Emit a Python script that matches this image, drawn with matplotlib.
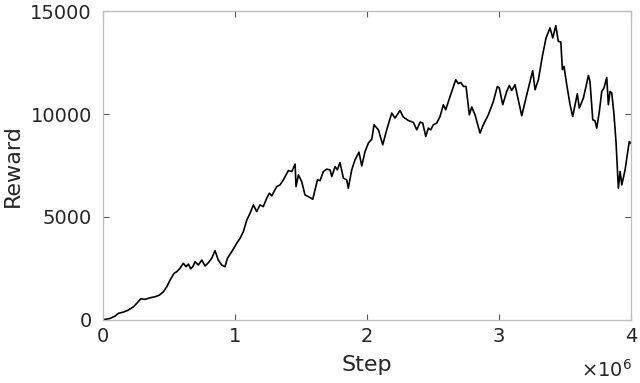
import matplotlib
matplotlib.use("Agg")
import matplotlib.pyplot as plt
from matplotlib.ticker import FixedLocator, FuncFormatter

# Training steps (in thousands) and reward
step_k = [0, 53, 91, 116, 154, 192, 230, 255, 286, 318, 356, 394, 427, 457, 483,
          508, 538, 558, 583, 608, 629, 646, 664, 680, 697, 722, 748, 773, 798, 823,
          848, 873, 899, 924, 942, 975, 1013, 1038, 1063, 1089, 1114, 1139, 1164,
          1189, 1214, 1240, 1260, 1278, 1295, 1316, 1341, 1366, 1404, 1430, 1455,
          1462, 1480, 1505, 1530, 1555, 1589, 1606, 1624, 1644, 1669, 1695, 1720,
          1733, 1758, 1775, 1795, 1821, 1846, 1858, 1884, 1909, 1939, 1960, 1985,
          2010, 2036, 2053, 2086, 2119, 2149, 2187, 2212, 2250, 2275, 2313, 2351,
          2377, 2402, 2422, 2445, 2464, 2483, 2502, 2528, 2553, 2578, 2596, 2629,
          2672, 2692, 2710, 2730, 2750, 2775, 2793, 2818, 2856, 2881, 2919, 2957,
          2987, 3002, 3028, 3058, 3078, 3096, 3121, 3146, 3172, 3210, 3255, 3273,
          3298, 3328, 3356, 3386, 3407, 3430, 3449, 3468, 3480, 3492, 3513, 3538,
          3558, 3576, 3593, 3608, 3639, 3659, 3677, 3689, 3710, 3727, 3740, 3760,
          3778, 3795, 3816, 3828, 3841, 3854, 3871, 3886, 3904, 3917, 3930, 3955,
          3975, 3987, 3998]
reward = [0, 68, 180, 312, 375, 472, 633, 799, 1023, 993, 1071, 1120, 1203, 1364,
          1607, 1933, 2260, 2338, 2503, 2747, 2581, 2713, 2480, 2581, 2825, 2664,
          2907, 2615, 2776, 2990, 3360, 2907, 2664, 2581, 2990, 3312, 3721, 3964,
          4286, 4855, 5182, 5586, 5260, 5586, 5503, 5912, 6156, 6024, 6234, 6477,
          6560, 6803, 7256, 7208, 7568, 6477, 7047, 6721, 6073, 5990, 5863, 6316,
          6803, 6769, 7208, 7325, 7290, 6964, 7451, 7290, 7646, 6886, 6803, 6399,
          7290, 7778, 8152, 7485, 8182, 8591, 8785, 9482, 9238, 8508, 9238, 10052,
          9808, 10178, 9857, 9691, 9594, 9238, 9613, 9565, 8912, 9321, 9238, 9482,
          9565, 9886, 10456, 10213, 10860, 11673, 11479, 11542, 11347, 11347, 9969,
          10344, 9969, 9078, 9482, 9969, 10617, 11347, 11269, 10456, 11104, 11396,
          11152, 11430, 10700, 9920, 10943, 12112, 11186, 11673, 12808, 13704,
          14191, 13704, 14303, 13539, 13509, 12160, 12321, 11430, 10456, 9886,
          10456, 10992, 10295, 10782, 11347, 11883, 11591, 9725, 9677, 9321, 10130,
          11104, 11269, 11785, 10456, 11104, 11026, 9969, 8669, 6399, 7208, 6560,
          7290, 8182, 8669, 8591]

x_ticks = [0, 1e6, 2e6, 3e6, 4e6]
y_ticks = [0, 5000, 10000, 15000]

steps = [s * 1000 for s in step_k]

fig = plt.figure(figsize=(6.4, 3.83), dpi=100)
ax = fig.add_axes([0.161, 0.165, 0.825, 0.8055])
ax.plot(steps, reward, color="black", linewidth=1.2)

ax.set_xlim(0, 4e6)
ax.set_ylim(0, 15000)
ax.xaxis.set_major_locator(FixedLocator(x_ticks))
ax.yaxis.set_major_locator(FixedLocator(y_ticks))
ax.xaxis.set_major_formatter(FuncFormatter(lambda v, p: f"{v/1e6:g}"))
ax.yaxis.set_major_formatter(FuncFormatter(lambda v, p: f"{int(v)}"))

spine_col = "#bdbdbd"
txt_col = "#262626"
for s in ax.spines.values():
    s.set_color(spine_col)
    s.set_linewidth(0.9)
ax.tick_params(direction="in", length=4, width=0.8, color="#555555",
               labelsize=14, labelcolor=txt_col, top=True, right=True)
ax.tick_params(axis="x", pad=5)
ax.tick_params(axis="y", pad=8)

ax.set_xlabel("Step", fontsize=16, color=txt_col, labelpad=7)
ax.set_ylabel("Reward", fontsize=16, color=txt_col, labelpad=5)
ax.text(1.003, -0.162, r"$\times10^{6}$", transform=ax.transAxes, ha="right",
        va="center", fontsize=14, color=txt_col)

fig.savefig("out.png", dpi=100)
